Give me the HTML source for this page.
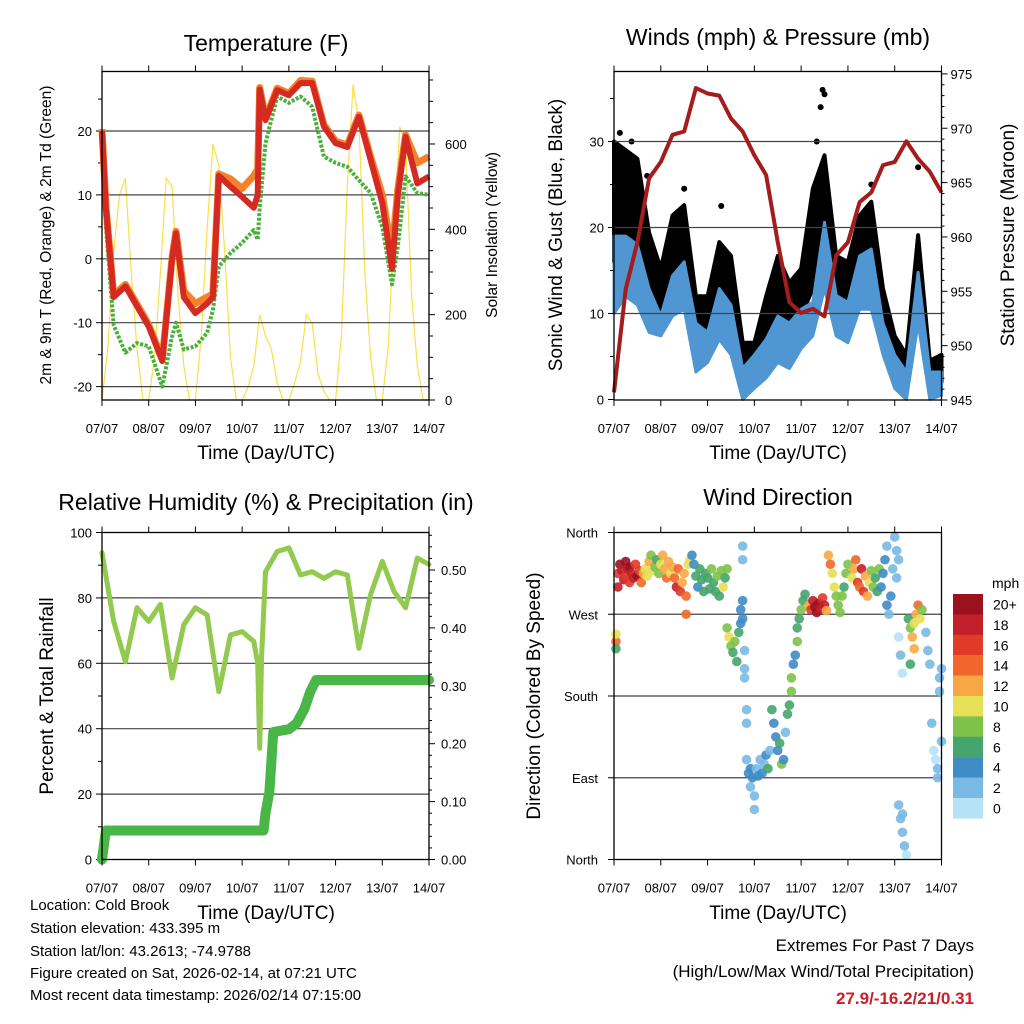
<!DOCTYPE html>
<html><head><meta charset="utf-8"><title>Cold Brook station charts</title>
<style>
html,body{margin:0;padding:0;background:#fff;}
svg{display:block;font-family:"Liberation Sans",Arial,sans-serif;}
</style></head>
<body>
<svg id="chart" width="1024" height="1024" viewBox="0 0 1024 1024" xmlns="http://www.w3.org/2000/svg">
<rect x="0" y="0" width="1024" height="1024" fill="#fff"/>
<g font-family="Liberation Sans, Arial, sans-serif" fill="#000">
<text x="266" y="51" font-size="23" text-anchor="middle">Temperature (F)</text>
<text x="778" y="45" font-size="23" text-anchor="middle">Winds (mph) &amp; Pressure (mb)</text>
<text x="266" y="510" font-size="23" text-anchor="middle">Relative Humidity (%) &amp; Precipitation (in)</text>
<text x="778" y="505" font-size="23" text-anchor="middle">Wind Direction</text>
<text x="266" y="459" font-size="19" text-anchor="middle">Time (Day/UTC)</text>
<text x="778" y="459" font-size="19" text-anchor="middle">Time (Day/UTC)</text>
<text x="266" y="919" font-size="19" text-anchor="middle">Time (Day/UTC)</text>
<text x="778" y="919" font-size="19" text-anchor="middle">Time (Day/UTC)</text>
<text transform="translate(51,235) rotate(-90)" font-size="15.5" text-anchor="middle">2m &amp; 9m T (Red, Orange) &amp; 2m Td (Green)</text>
<text transform="translate(497,235) rotate(-90)" font-size="15.5" text-anchor="middle">Solar Insolation (Yellow)</text>
<text transform="translate(562,235) rotate(-90)" font-size="19" text-anchor="middle">Sonic Wind &amp; Gust (Blue, Black)</text>
<text transform="translate(1014,235) rotate(-90)" font-size="19" text-anchor="middle">Station Pressure (Maroon)</text>
<text transform="translate(53,696) rotate(-90)" font-size="19" text-anchor="middle">Percent &amp; Total Rainfall</text>
<text transform="translate(540,696) rotate(-90)" font-size="19" text-anchor="middle">Direction (Colored By Speed)</text>
<g font-size="15">
<text x="30" y="910">Location: Cold Brook</text>
<text x="30" y="933">Station elevation: 433.395 m</text>
<text x="30" y="956">Station lat/lon: 43.2613; -74.9788</text>
<text x="30" y="978">Figure created on Sat, 2026-02-14, at 07:21 UTC</text>
<text x="30" y="1000">Most recent data timestamp: 2026/02/14 07:15:00</text>
</g>
<g text-anchor="end">
<text x="974" y="951" font-size="17">Extremes For Past 7 Days</text>
<text x="974" y="977" font-size="17">(High/Low/Max Wind/Total Precipitation)</text>
<text x="974" y="1004" font-size="17" font-weight="bold" fill="#c8202a">27.9/-16.2/21/0.31</text>
</g>
</g>
</svg>
<script>
// ---------- data ----------
const dayLabels = ["07/07","08/07","09/07","10/07","11/07","12/07","13/07","14/07"];
const tempHours = [0,2,6,12,18,24,31,36,38,42,48,54,57,60,66,72,78,80,81,84,90,96,102,108,114,120,126,132,138,144,149,152,156,162,168];
const tempRed = [20,8,-6,-4.3,-7.4,-10.6,-16,0,4,-6,-8.5,-7,-6,13,11.3,9.7,8,10,26.5,21.7,26.4,25.6,27.5,27.5,20.7,18.1,17.5,22.2,15.5,8.7,-1.5,10,19.1,11.8,12.9];
const tempOrange = [20.3,8.3,-5.7,-4,-7.1,-10.3,-15.7,0.3,4.3,-5,-7,-6,-5.5,13.3,12.5,11,13,14,26.8,22,26.7,25.9,27.9,27.8,21,18.4,17.8,22.5,16,10,1,11,19.4,15,16];
const tempGreen = [18,5,-10.4,-14.7,-13.2,-13.7,-20,-12.1,-10,-14.2,-13.7,-11.6,-8,-1.2,0.9,2.5,4.5,3,8,18.1,25.4,24.4,25.4,23.8,16,15,14.4,12.3,10.3,5,-4,2,12.9,10.3,10];
const tempTicks = [20,10,0,-10,-20];
const solarTicks = [0,200,400,600];
const solarHours = []; for (let h = 0; h <= 168; h += 3) solarHours.push(h);
const solar = [0,120,350,480,520,300,120,0, 0,100,300,520,500,250,80,0, 0,150,400,600,550,350,100,0, 0,30,80,200,150,120,40,0, 0,40,90,200,180,60,20,0, 0,150,500,740,650,300,100,0, 0,120,400,640,600,250,80,0, 0];

const windHours = [0,6,12,18,24,30,36,42,48,54,60,66,72,78,84,90,96,102,108,114,120,126,132,138,144,150,156,162,168];
const windLo = [10,12,11,7.8,7.4,9.7,10.5,3.2,4.3,7,5.2,0,1.3,2.5,4.3,3.6,5.9,7.4,12.9,7.4,6.6,10.5,10.5,5.2,1.3,0,8.9,0,0.5];
const windHi = [19,19,18,12.9,9.7,14.4,16,8.9,7.8,12.9,11,3.6,5.2,7,9.7,8.9,10.5,11.3,20.6,12.1,11.3,16.7,17.5,8.9,5.2,3.2,14.8,3.2,3.2];
const gustLo = [16,18,16,12,10.5,14.8,16,5.2,6.6,10.5,8.9,1.3,2.9,5.2,9.7,8.2,9.7,12.9,20.6,10.5,10.5,15.2,16,6.6,2.9,1.3,13.6,1.3,2];
const gustHi = [30,29,28,19.4,15.2,21.4,22.6,12,12,18.3,16.7,6.6,6.6,12,16.7,13.6,15.2,24.5,28.4,16.7,16,21.4,23,12.9,7.4,5.2,19.1,4.5,5.2];
const gustSpikeT = [3,9,17,36,55,104,106,107,108,132,156];
const gustSpikeV = [31,30,26,24.5,22.5,30,34,36,35.5,25,27];
const pressure = [945.7,955.2,959.5,965.4,966.9,969.4,969.7,973.7,973.2,973,970.9,969.7,967.5,965.7,959.5,954,953,953.4,952.7,958.3,959.5,963.2,964.1,966.6,966.9,968.8,967.2,966,964.1];
const windTicks = [0,10,20,30];
const pressTicks = [945,950,955,960,965,970,975];

const rhHours = [0,6,12,18,24,30,36,42,48,54,60,66,72,78,80,81,82,84,90,96,102,108,114,120,126,132,138,144,150,156,162,168];
const rh = [93.8,72.8,60.5,77,72.8,78,55.5,71.8,77,74.8,51.3,68.7,69.7,66.7,60,34,62,88,94.2,95.3,87,88,86,88,87,64.6,81,91.2,82,77,92.2,90.2];
const precipHours = [0,2,83,84,86,88,96,100,104,107,110,168];
const precip = [0,0.05,0.05,0.08,0.117,0.22,0.225,0.235,0.26,0.29,0.31,0.31];
const rhTicks = [0,20,40,60,80,100];
const precipTicks = ["0.00","0.10","0.20","0.30","0.40","0.50"];

const dirT = [1,1,1,2,2,3,4,5,6,6,7,8,8,9,10,11,12,13,14,15, 16,17,18,19,20,21,22,23,24,25,26,27,28,29,30, 31,32,33,34,35,36,37,37,38,39, 40,41,42,43,44,45,46,47, 48,49,50,51,52,53,54,55,56,57,58, 58,59,60,61,62,63,64,65,65, 66,66,66,66,67,67,67,68,68, 68,69,70,70,71,72,72,73,74,75,76,77,78,79,80, 81,82,83,84,85,86,87,88, 89,90,91,91,92,93,94,95,96,97,98,94, 100,101,102,103,104,105,106,107,108,109, 110,111,112,113,114,115,116,117,118,119,120, 122,123,124,125,126,127,128,129,130,131,132,133,134,135,136, 137,138,139,140,140,141,142,143, 144,145,146,146,147,148,145, 151,152,153,154,155,156,157,158,152,154, 146,147,148,149,150,148, 160,161,162,163,164,165,166,167,167,168,166,168];
const dirD = [240,232,248,300,315,325,318,308,328,312,320,305,322,315,310,325,312,318,305,315, 320,312,328,335,318,322,330,315,325,335,320,310,328,315,322, 310,300,320,295,305,315,290,270,325,330, 335,325,312,300,320,308,295,315, 310,298,320,305,295,312,290,318,300,310,320, 255,245,235,228,240,218,250,260,275, 345,330,285,265,230,210,200,150,165, 110,95,100,80,90,70,55,100,92,110,95,105,115,100,120, 165,150,135,120,128,105,110,140, 160,170,185,200,215,225,240,265,275,285,292,255, 280,275,285,278,272,282,276,288,280,274, 335,325,315,300,290,280,272,290,300,315,325, 310,320,330,305,300,320,295,312,290,305,318,300,310,295,320, 300,315,330,345,280,270,290,320, 355,340,330,245,225,205,310, 265,255,245,260,270,280,265,275,215,232, 60,45,30,15,5,50, 250,230,215,150,120,110,100,185,200,210,90,130];
const dirS = [14,6,10,18,16,20,18,19,20,17,18,16,20,19,18,17,20,16,15,12, 10,11,12,9,10,8,7,9,11,12,13,14,12,10,13, 15,18,14,16,13,12,14,14,10,11, 5,4,6,5,7,6,7,6, 7,6,8,7,6,8,7,9,10,7,8, 8,10,8,7,9,7,6,5,4, 2,2,4,4,2,2,3,3,2, 3,4,4,3,4,2,2,3,4,3,4,2,5,6,3, 6,5,4,4,7,9,4,3, 6,7,9,8,4,4,8,7,8,7,6,7, 13,16,18,20,20,20,19,17,18,12, 12,14,11,10,9,8,9,8,7,9,8, 11,12,14,16,15,18,16,13,12,10,9,8,7,6,8, 4,5,4,3,4,3,4,3, 2,2,2,1,2,1,2, 6,8,12,10,12,14,10,8,6,12, 2,2,2,2,1,3, 2,2,3,3,1,1,2,2,2,2,2,2];
const speedLabels = ["20+","18","16","14","12","10","8","6","4","2","0"];
const speedColors = ["#9b111e","#c21f2a","#e03a28","#f1672b","#f7a845","#e6e057","#7ec24a","#45a56c","#3f8bc6","#7ab9e4","#b6e2f7"];
const dirTicks = ["North","West","South","East","North"];

// ---------- helpers ----------
const NS = 'http://www.w3.org/2000/svg';
const svg = document.getElementById('chart');
function mk(tag, attrs, parent) {
  const e = document.createElementNS(NS, tag);
  for (const k in attrs) e.setAttribute(k, attrs[k]);
  (parent || svg).appendChild(e);
  return e;
}
function txt(x, y, s, size, anchor, parent) {
  const e = mk('text', {x: x, y: y, 'font-size': size, 'text-anchor': anchor || 'middle', 'font-family': 'Liberation Sans, Arial, sans-serif'}, parent);
  e.textContent = s;
  return e;
}
function xs(P, t) { return P.x0 + t / 168 * (P.x1 - P.x0); }
function pathFrom(P, ts, vs, yf) {
  return ts.map((t, i) => (i ? 'L' : 'M') + xs(P, t).toFixed(1) + ',' + yf(vs[i]).toFixed(1)).join(' ');
}
function bandFrom(P, ts, lo, hi, yf) {
  let d = ts.map((t, i) => (i ? 'L' : 'M') + xs(P, t).toFixed(1) + ',' + yf(hi[i]).toFixed(1)).join(' ');
  for (let i = ts.length - 1; i >= 0; i--) d += ' L' + xs(P, ts[i]).toFixed(1) + ',' + yf(lo[i]).toFixed(1);
  return d + ' Z';
}
function timeAxis(P, name) {
  const g = mk('g', {});
  
  
  dayLabels.forEach((lab, i) => {
    const x = xs(P, i * 24);
    mk('line', {x1: x, x2: x, y1: P.y0 - 6, y2: P.y0, stroke: '#000', 'stroke-width': 1}, g);
    mk('line', {x1: x, x2: x, y1: P.y1, y2: P.y1 + 6, stroke: '#000', 'stroke-width': 1}, g);
    const t = txt(x, P.y1 + 33, lab, 13, 'middle', g);
    
    
  });
}
function frame(P, name) {
  const r = mk('rect', {x: P.x0, y: P.y0, width: P.x1 - P.x0, height: P.y1 - P.y0, fill: 'none', stroke: '#000', 'stroke-width': 1.3});
  
  
}
function hgrid(P, y, name) {
  const l = mk('line', {x1: P.x0, x2: P.x1, y1: y, y2: y, stroke: '#444', 'stroke-width': 1.2});
  
  
}
function leftTick(P, y, len) { mk('line', {x1: P.x0 - len, x2: P.x0, y1: y, y2: y, stroke: '#000', 'stroke-width': 1}); }
function rightTick(P, y, len) { mk('line', {x1: P.x1, x2: P.x1 + len, y1: y, y2: y, stroke: '#000', 'stroke-width': 1}); }

// ---------- Panel 1: Temperature ----------
const P1 = {x0: 102, x1: 429, y0: 71.5, y1: 400};
const yT = v => 131 + (20 - v) * 6.39;
const yS = v => 400 - v * 0.4267;
const solarLine = mk('path', {d: pathFrom(P1, solarHours, solar, yS), fill: 'none', stroke: '#f9df4a', 'stroke-width': 1.2});


tempTicks.forEach(v => {
  hgrid(P1, yT(v), 'temp-gridline');
  leftTick(P1, yT(v), 6);
  const t = txt(P1.x0 - 10, yT(v) + 5, String(v), 13, 'end');
  
  
});
[25,15,5,-5,-15].forEach(v => leftTick(P1, yT(v), 4));
for (let v = 0; v <= 750; v += 50) { if (yS(v) >= P1.y0) rightTick(P1, yS(v), v % 200 === 0 ? 6 : 4); }
solarTicks.forEach(v => {
  const t = txt(P1.x1 + 16, yS(v) + 5, String(v), 13, 'start');
  
  
});
const greenLine = mk('path', {d: pathFrom(P1, tempHours, tempGreen, yT), fill: 'none', stroke: '#4caf3c', 'stroke-width': 4, 'stroke-dasharray': '3 1.6', 'stroke-linejoin': 'round'});


const orangeLine = mk('path', {d: pathFrom(P1, tempHours, tempOrange, yT), fill: 'none', stroke: '#f5822a', 'stroke-width': 7, 'stroke-linejoin': 'round'});


const redLine = mk('path', {d: pathFrom(P1, tempHours, tempRed, yT), fill: 'none', stroke: '#d42a22', 'stroke-width': 6, 'stroke-linejoin': 'round'});


frame(P1, 'temperature-plot-frame');
timeAxis(P1, 'temp-x-axis');

// ---------- Panel 2: Winds ----------
const P2 = {x0: 614, x1: 941.5, y0: 71.5, y1: 400};
const yW = v => 399.5 - v * 8.6;
const yP = v => 400 - (v - 945) * 10.87;
const gustBand = mk('path', {d: bandFrom(P2, windHours, gustLo, gustHi, yW), fill: '#000', stroke: '#000', 'stroke-width': 4, 'stroke-linejoin': 'round'});


gustSpikeT.forEach((t, i) => {
  const c = mk('circle', {cx: xs(P2, t), cy: yW(gustSpikeV[i]), r: 3, fill: '#000'});
  
  
});
const windBand = mk('path', {d: bandFrom(P2, windHours, windLo, windHi, yW), fill: '#4f96d2', stroke: '#4f96d2', 'stroke-width': 3, 'stroke-linejoin': 'round'});


windTicks.forEach(v => {
  if (v > 0) hgrid(P2, yW(v), 'wind-gridline');
  leftTick(P2, yW(v), 6);
  const t = txt(P2.x0 - 10, yW(v) + 5, String(v), 13, 'end');
  
  
});
[5,15,25,35].forEach(v => leftTick(P2, yW(v), 4));
for (let v = 945; v <= 975; v += 1) rightTick(P2, yP(v), v % 5 === 0 ? 6 : 3);
pressTicks.forEach(v => {
  const t = txt(P2.x1 + 9, yP(v) + 5, String(v), 13, 'start');
  
  
});
const pressLine = mk('path', {d: pathFrom(P2, windHours, pressure, yP), fill: 'none', stroke: '#a31d1d', 'stroke-width': 4, 'stroke-linejoin': 'round'});


frame(P2, 'winds-plot-frame');
timeAxis(P2, 'winds-x-axis');

// ---------- Panel 3: RH & precip ----------
const P3 = {x0: 102, x1: 429, y0: 532.5, y1: 859.5};
const yR = v => 859.5 - v * 3.27;
const yPr = v => 859.5 - v * 579;
rhTicks.forEach(v => {
  if (v > 0 && v < 100) hgrid(P3, yR(v), 'humidity-gridline');
  leftTick(P3, yR(v), 6);
  const t = txt(P3.x0 - 10, yR(v) + 5, String(v), 13, 'end');
  
  
});
[10,30,50,70,90].forEach(v => leftTick(P3, yR(v), 4));
for (let v = 0; v <= 0.5601; v += 0.02) rightTick(P3, yPr(v), Math.round(v * 100) % 10 === 0 ? 6 : 3);
precipTicks.forEach(s => {
  const t = txt(P3.x1 + 12, yPr(parseFloat(s)) + 5, s, 13, 'start');
  
  
});
const rhLine = mk('path', {d: pathFrom(P3, rhHours, rh, yR), fill: 'none', stroke: '#92c94f', 'stroke-width': 5, 'stroke-linejoin': 'round', 'stroke-linecap': 'round'});


const precipLine = mk('path', {d: pathFrom(P3, precipHours, precip, yPr), fill: 'none', stroke: '#4bb648', 'stroke-width': 10, 'stroke-linejoin': 'round', 'stroke-linecap': 'round'});


frame(P3, 'humidity-plot-frame');
timeAxis(P3, 'humidity-x-axis');

// ---------- Panel 4: wind direction ----------
const P4 = {x0: 614, x1: 941.5, y0: 532.5, y1: 859.5};
const yD = v => 859.5 - v / 360 * 327;
dirTicks.forEach((s, i) => {
  const d = 360 - i * 90;
  if (i > 0 && i < 4) hgrid(P4, yD(d), 'direction-gridline');
  leftTick(P4, yD(d), 6);
  const t = txt(P4.x0 - 16, yD(d) + 5, s, 13, 'end');
  
  
});
function speedColor(s) { const idx = Math.min(10, Math.floor(s / 2)); return speedColors[10 - idx]; }
dirT.forEach((t, i) => {
  const c = mk('circle', {cx: xs(P4, t), cy: yD(dirD[i]), r: 4.8, fill: speedColor(dirS[i]), 'fill-opacity': 0.9});
  
  
});
frame(P4, 'direction-plot-frame');
timeAxis(P4, 'direction-x-axis');

// colorbar
const cb = mk('g', {});


const unit = txt(992, 588, 'mph', 14, 'start', cb);


speedLabels.forEach((lab, i) => {
  const y = 594 + i * 20.4;
  const r = mk('rect', {x: 953, y: y, width: 30, height: 20.6, fill: speedColors[i]}, cb);
  
  
  const t = txt(993, y + 15.5, lab, 14, 'start', cb);
  
  
});
</script>
</body></html>
